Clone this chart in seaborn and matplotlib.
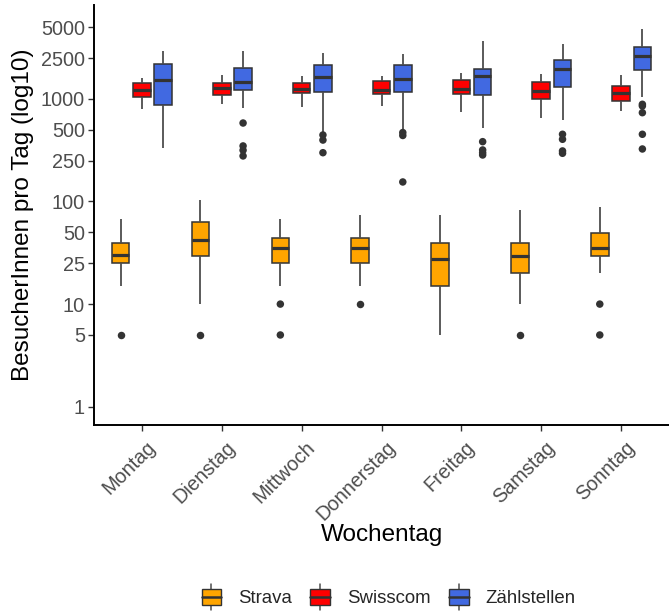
import numpy as np
import pandas as pd
import matplotlib
matplotlib.use("Agg")
import matplotlib.pyplot as plt
import seaborn as sns
from matplotlib.patches import Rectangle, Patch
from matplotlib.lines import Line2D
from matplotlib.legend_handler import HandlerBase
from matplotlib.transforms import ScaledTranslation

# ---------------- data ----------------
days = ["Montag", "Dienstag", "Mittwoch", "Donnerstag", "Freitag", "Samstag", "Sonntag"]
sources = ["Strava", "Swisscom", "Zählstellen"]
colors = ["#FFA500", "#FF0000", "#4169E1"]

# five-number summaries per weekday (whisker low, Q1, median, Q3, whisker high)
strava_wlo = [15, 10, 15, 15, 5, 10, 20]
strava_q1 = [25, 29.5, 25, 25, 15, 20, 29.5]
strava_med = [30, 42, 35, 35, 27.5, 29.5, 35]
strava_q3 = [39.5, 63, 44.5, 44.5, 39.5, 39.5, 49.5]
strava_whi = [68, 103, 68, 73.5, 73.5, 83.5, 88.5]

swisscom_wlo = [790, 900, 835, 845, 745, 650, 755]
swisscom_q1 = [1045, 1085, 1140, 1125, 1110, 995, 955]
swisscom_med = [1215, 1275, 1260, 1230, 1260, 1195, 1140]
swisscom_q3 = [1430, 1430, 1430, 1485, 1520, 1450, 1325]
swisscom_whi = [1600, 1700, 1660, 1670, 1800, 1740, 1700]

zaehl_wlo = [333, 823, 470, 510, 521, 619, 1044]
zaehl_q1 = [880, 1232, 1159, 1159, 1091, 1306, 1928]
zaehl_med = [1541, 1461, 1633, 1578, 1660, 1973, 2600]
zaehl_q3 = [2173, 2000, 2158, 2124, 1973, 2415, 3200]
zaehl_whi = [2926, 2926, 2825, 2717, 3637, 3404, 4795]

# outliers per weekday
strava_out = [[5], [5], [10, 5], [10], [], [5], [10, 5]]
swisscom_out = [[], [], [], [], [], [], []]
zaehl_out = [[], [582, 348, 316, 278], [445, 397, 299], [470, 440, 155],
             [383, 318, 299, 284], [452, 404, 311, 295], [886, 853, 734, 452, 325]]

yticks = [1, 5, 10, 25, 50, 100, 250, 500, 1000, 2500, 5000]

# ---------------- build tables ----------------
summaries = {
    "Strava": (strava_wlo, strava_q1, strava_med, strava_q3, strava_whi),
    "Swisscom": (swisscom_wlo, swisscom_q1, swisscom_med, swisscom_q3, swisscom_whi),
    "Zählstellen": (zaehl_wlo, zaehl_q1, zaehl_med, zaehl_q3, zaehl_whi),
}
outliers = {"Strava": strava_out, "Swisscom": swisscom_out, "Zählstellen": zaehl_out}

rows = []
for s in sources:
    arrs = summaries[s]
    for i, d in enumerate(days):
        for a in arrs:
            rows.append({"Wochentag": d, "Quelle": s, "Besucher": a[i]})
box_df = pd.DataFrame(rows)

orows = []
for s in sources:
    for i, d in enumerate(days):
        for v in outliers[s][i]:
            orows.append({"Wochentag": d, "Quelle": s, "Besucher": v})
out_df = pd.DataFrame(orows)

# ---------------- plot ----------------
sns.set_theme(style="ticks")
plt.rcParams["font.family"] = ["Liberation Sans", "DejaVu Sans"]

W, H = 669, 611
fig = plt.figure(figsize=(W / 100, H / 100), dpi=100)
ax = fig.add_axes([94 / W, 1 - 425 / H, (W - 94) / W, 420 / H])

palette = dict(zip(sources, colors))
edge = "#333333"
sns.boxplot(data=box_df, x="Wochentag", y="Besucher", hue="Quelle",
            order=days, hue_order=sources, palette=palette, saturation=1,
            width=0.8, gap=0.17, dodge=True, whis=(0, 100), log_scale=True,
            linecolor=edge, linewidth=1.1, showfliers=False, legend=False,
            medianprops={"color": edge, "linewidth": 2.3},
            whiskerprops={"color": "#4d4d4d", "linewidth": 1.3},
            capprops={"linewidth": 0},
            ax=ax)

sns.stripplot(data=out_df, x="Wochentag", y="Besucher", hue="Quelle",
              order=days, hue_order=sources,
              palette={s: edge for s in sources}, dodge=True, jitter=False,
              size=5.4, linewidth=0, legend=False, ax=ax)

ax.set_yscale("log")
ax.set_ylim(0.663, 8227)
ax.set_xlim(-0.6, 6.6)
ax.set_yticks(yticks)
ax.set_yticklabels([str(t) for t in yticks])
ax.yaxis.set_minor_locator(matplotlib.ticker.NullLocator())
ax.set_xlabel("")
ax.set_ylabel("")

for side in ["top", "right"]:
    ax.spines[side].set_visible(False)
for side in ["left", "bottom"]:
    ax.spines[side].set_color("black")
    ax.spines[side].set_linewidth(1.4)

ax.tick_params(axis="y", length=4, width=1.0, color="#333333",
               labelsize=14.3, labelcolor="#4d4d4d", pad=2.5)
ax.tick_params(axis="x", length=4, width=1.0, color="#333333",
               labelsize=14.3, labelcolor="#4d4d4d", pad=5)
offset = ScaledTranslation(4 / 100, 0, fig.dpi_scale_trans)
for lab in ax.get_xticklabels():
    lab.set_rotation(45)
    lab.set_ha("right")
    lab.set_va("top")
    lab.set_rotation_mode("anchor")
    lab.set_transform(lab.get_transform() + offset)

fig.text(382 / W, 1 - 535 / H, "Wochentag", ha="center", va="center",
         fontsize=17.5, color="black")
fig.text(23 / W, 1 - 215 / H, "BesucherInnen pro Tag (log10)", ha="center",
         va="center", rotation=90, fontsize=17.5, color="black")


class BoxHandler(HandlerBase):
    def create_artists(self, legend, orig_handle, xdescent, ydescent, width,
                       height, fontsize, trans):
        fc = orig_handle.get_facecolor()
        cx = -xdescent + width / 2
        bw = width * 0.92
        y0 = -ydescent
        bh = height * 1.0
        by = y0 + (height - bh) / 2
        w1 = Line2D([cx, cx], [by - height * 0.3, by], color="#4d4d4d",
                    lw=1.1, transform=trans)
        w2 = Line2D([cx, cx], [by + bh, by + bh + height * 0.3], color="#4d4d4d",
                    lw=1.1, transform=trans)
        r = Rectangle((cx - bw / 2, by), bw, bh, facecolor=fc, edgecolor=edge,
                      lw=1.0, transform=trans)
        m = Line2D([cx - bw / 2, cx + bw / 2], [by + bh / 2] * 2, color=edge,
                   lw=1.8, transform=trans)
        return [w1, w2, r, m]


handles = [Patch(facecolor=c, edgecolor=edge) for c in colors]
fig.legend(handles, sources, loc="center", bbox_to_anchor=(388 / W, 1 - 598 / H),
           ncol=3, frameon=False, fontsize=13.4, handler_map={Patch: BoxHandler()},
           handlelength=1.15, handleheight=0.95, handletextpad=0.85,
           columnspacing=0.95)

fig.savefig("out.png", dpi=100)
